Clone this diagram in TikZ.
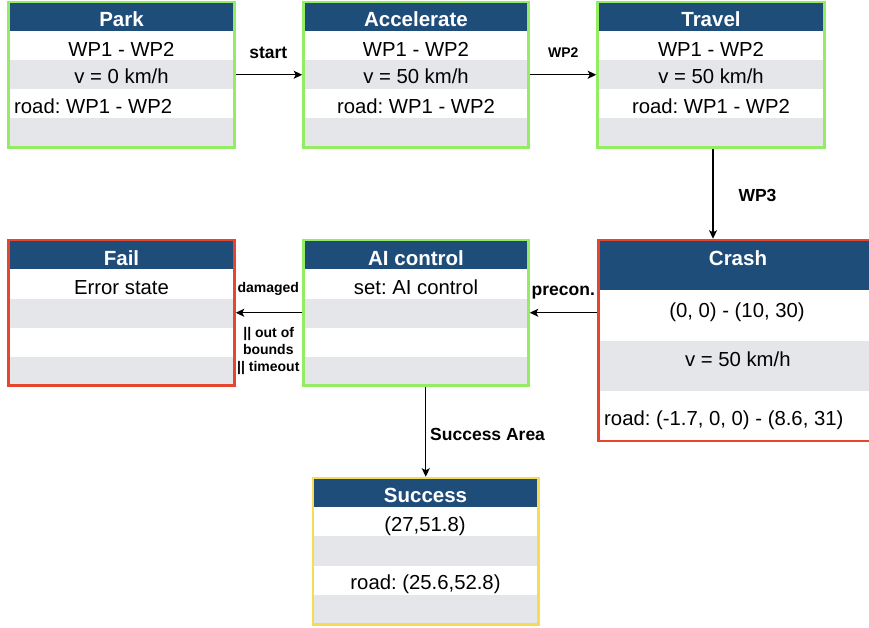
\documentclass[tikz,border=0pt]{standalone}
\usepackage{fontspec}
\setmainfont{Liberation Sans}
\usetikzlibrary{arrows.meta}
\frenchspacing

\definecolor{hdrblue}{HTML}{1F4D7A}
\definecolor{rowgray}{HTML}{E5E6EA}
\definecolor{okgreen}{HTML}{93EC64}
\definecolor{badred}{HTML}{E6452E}
\definecolor{goalyellow}{HTML}{F6DC55}

\tikzset{
  box/.style={draw=#1, line width=2.5pt, fill=none, inner sep=0pt},
  head/.style={fill=hdrblue},
  band/.style={fill=rowgray},
  title/.style={text=white, font=\fontsize{20.5}{24}\selectfont\bfseries, anchor=base, inner sep=0pt},
  cell/.style={font=\fontsize{20.3}{24}\selectfont, anchor=base, inner sep=0pt},
  cellleft/.style={cell, anchor=base west},
  arr/.style={line width=1.3pt, -{Stealth[length=8.5pt,width=8pt,inset=2pt]}},
  lbl/.style={font=\fontsize{17.5}{20}\selectfont\bfseries, anchor=base, inner sep=0pt},
  lblsmall/.style={font=\fontsize{14}{17}\selectfont\bfseries, anchor=base, inner sep=0pt},
}

\begin{document}
\begin{tikzpicture}[x=1pt, y=-1pt]
  \useasboundingbox (0,0) rectangle (869,628);
  \clip (0,0) rectangle (869,628);
  \fill[white] (0,0) rectangle (869,628);

  % ---- header and banded rows ----
  % Park
  \fill[head] (8.5,2) rectangle (234.5,31);
  \fill[band] (8.5,60) rectangle (234.5,89);
  \fill[band] (8.5,118) rectangle (234.5,147.5);
  % Accelerate
  \fill[head] (303.5,2) rectangle (528.5,31);
  \fill[band] (303.5,60) rectangle (528.5,89);
  \fill[band] (303.5,118) rectangle (528.5,147.5);
  % Travel
  \fill[head] (597.5,2) rectangle (824.5,31);
  \fill[band] (597.5,60) rectangle (824.5,89);
  \fill[band] (597.5,118) rectangle (824.5,147.5);
  % Fail
  \fill[head] (8.5,240) rectangle (234.5,269);
  \fill[band] (8.5,298.5) rectangle (234.5,328);
  \fill[band] (8.5,357) rectangle (234.5,385.5);
  % AI control
  \fill[head] (303.5,240) rectangle (528.5,269);
  \fill[band] (303.5,298.5) rectangle (528.5,328);
  \fill[band] (303.5,357) rectangle (528.5,385.5);
  % Crash
  \fill[head] (598.5,240) rectangle (877.5,290);
  \fill[band] (598.5,341) rectangle (877.5,391);
  % Success
  \fill[head] (313,478) rectangle (538.5,507);
  \fill[band] (313,536) rectangle (538.5,565.5);
  \fill[band] (313,595) rectangle (538.5,624.5);

  % ---- state boxes ----
  \node[box=okgreen, minimum width=226pt, minimum height=145.5pt] (park) at (121.5,74.75) {};
  \node[box=okgreen, minimum width=225pt, minimum height=145.5pt] (accel) at (416,74.75) {};
  \node[box=okgreen, minimum width=227pt, minimum height=145.5pt] (travel) at (711,74.75) {};
  \node[box=badred, minimum width=226pt, minimum height=145.5pt] (fail) at (121.5,312.75) {};
  \node[box=okgreen, minimum width=225pt, minimum height=145.5pt] (ai) at (416,312.75) {};
  \node[box=badred, minimum width=279pt, minimum height=201pt] (crash) at (738,340.5) {};
  \node[box=goalyellow, minimum width=225.5pt, minimum height=146.5pt] (success) at (425.75,551.25) {};

  % ---- texts ----
  \node[title] (parkT) at (121.5,26.7) {Park};
  \node[cell] (parkA) at (121.5,56.5) {WP1 - WP2};
  \node[cell] (parkB) at (121.5,83.5) {v = 0 km/h};
  \node[cellleft] (parkC) at (14,113.3) {road: WP1 - WP2};

  \node[title] (accelT) at (416,26.7) {Accelerate};
  \node[cell] (accelA) at (416,56.3) {WP1 - WP2};
  \node[cell] (accelB) at (416,84) {v = 50 km/h};
  \node[cell] (accelC) at (416,113.3) {road: WP1 - WP2};

  \node[title] (travelT) at (711,26.7) {Travel};
  \node[cell] (travelA) at (711,56.3) {WP1 - WP2};
  \node[cell] (travelB) at (711,84) {v = 50 km/h};
  \node[cell] (travelC) at (711,113.3) {road: WP1 - WP2};

  \node[title] (failT) at (121.5,265) {Fail};
  \node[cell] (failA) at (121.5,294) {Error state};

  \node[title] (aiT) at (416,265) {AI control};
  \node[cell] (aiA) at (416,294) {set: AI control};

  \node[title] (crashT) at (738,265) {Crash};
  \node[cell] (crashA) at (737,317) {(0, 0) - (10, 30)};
  \node[cell] (crashB) at (737.8,366) {v = 50 km/h};
  \node[cellleft] (crashC) at (604,425) {road: (-1.7, 0, 0) - (8.6, 31)};

  \node[title] (successT) at (425.5,502.7) {Success};
  \node[cell] (successA) at (425,531.5) {(27,51.8)};
  \node[cell] (successB) at (425.5,589.3) {road: (25.6,52.8)};

  % ---- transitions ----
  \draw[arr] (park.east) -- (accel.west);
  \draw[arr] (accel.east) -- (travel.west);
  \draw[arr] ([xshift=2pt]travel.south) -- ([xshift=2pt]travel.south |- crash.north);
  \draw[arr] (crash.west |- ai.east) -- (ai.east);
  \draw[arr] (ai.west) -- (fail.east);
  \draw[arr] (success.north |- ai.south) -- (success.north);

  % ---- transition labels ----
  \node[lbl] (startL) at (268.3,58.5) {start};
  \node[lblsmall] (wp2L) at (563.3,57.3) {WP2};
  \node[lbl] (wp3L) at (757.5,201.5) {WP3};
  \node[lbl] (preconL) at (563.3,295.5) {precon.};
  \node[lblsmall] (damL) at (268.3,292.7) {damaged};
  \node[lblsmall] (oobL) at (268.7,337.3) {|| out of};
  \node[lblsmall] (bndL) at (268.3,354) {bounds};
  \node[lblsmall] (toL) at (268.3,371) {|| timeout};
  \node[lbl, anchor=base west] (areaL) at (430,440.7) {Success Area};
\end{tikzpicture}
\end{document}
